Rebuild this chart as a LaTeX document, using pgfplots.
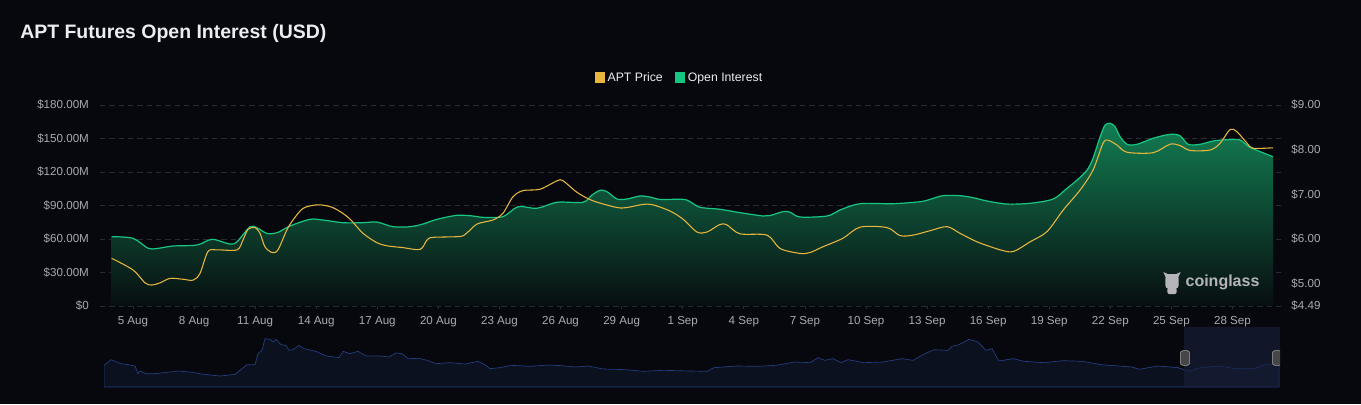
\documentclass[border=0pt]{standalone}
\usepackage{fontspec}
\setmainfont{Liberation Sans}
\usepackage{pgfplots}
\pgfplotsset{compat=1.18}

\definecolor{bg}{RGB}{7,8,13}
\definecolor{gridc}{RGB}{42,44,52}
\definecolor{labc}{RGB}{168,171,178}
\definecolor{titlec}{RGB}{236,237,240}
\definecolor{oiC}{RGB}{22,199,132}
\definecolor{oiTop}{RGB}{18,125,82}
\definecolor{oiBot}{RGB}{8,14,16}
\definecolor{priceC}{RGB}{232,182,62}
\definecolor{navFill}{RGB}{12,17,32}
\definecolor{navLine}{RGB}{36,62,130}
\definecolor{navSel}{RGB}{24,32,58}
\definecolor{wm}{RGB}{180,180,186}

\pgfplotstableread{
x oi
-1.05 62.1
0 60.6
0.74 51.7
1.18 51.5
1.96 53.7
3.14 54.6
3.88 59.7
4.76 55.5
5.11 57.6
5.75 71.0
6.09 70.0
6.58 65.0
7.07 65.6
7.71 71.6
8.69 77.6
9.33 77.0
10.31 74.6
11.30 74.6
11.98 75.2
12.77 71.0
13.61 71.0
14.24 73.4
14.93 77.6
15.91 81.2
16.70 80.6
17.19 79.4
18.17 80.0
18.91 88.9
19.84 87.5
20.83 92.9
22.10 92.9
22.54 99.4
22.94 103.6
23.28 102.4
23.77 95.8
24.26 95.8
24.90 98.5
25.39 97.6
25.88 95.5
27.01 95.5
27.36 93.4
27.85 88.4
28.83 86.6
29.81 83.6
30.94 80.6
31.29 81.0
31.93 84.5
32.27 84.0
32.76 79.7
34.09 80.6
34.73 86.0
35.71 91.6
37.33 91.6
38.66 93.4
39.15 95.5
39.78 98.8
40.62 98.8
41.26 97.0
41.95 94.0
42.93 91.3
44.06 92.0
45.19 95.8
45.87 105.4
46.37 112.8
46.86 121.8
47.15 132.3
47.50 151.6
47.74 162.0
47.99 163.6
48.23 160.6
48.48 151.6
48.82 144.8
49.31 144.8
50.10 150.2
50.93 153.7
51.42 152.5
51.82 144.8
52.41 144.8
53.05 147.8
53.73 148.9
54.37 148.7
54.86 142.1
55.99 133.7
}\oidata

\pgfplotstableread{
x price
-1.05 5.56
0 5.30
0.59 5.01
0.93 4.96
1.33 5.01
1.82 5.11
2.46 5.09
2.95 5.07
3.29 5.22
3.68 5.71
4.13 5.75
5.11 5.75
5.40 5.97
5.65 6.21
5.99 6.25
6.24 6.12
6.48 5.82
6.83 5.69
7.12 5.75
7.56 6.20
7.86 6.42
8.35 6.68
9.04 6.76
9.68 6.72
10.17 6.61
10.66 6.44
11.30 6.12
11.98 5.91
12.48 5.84
13.26 5.80
14.10 5.76
14.44 5.97
14.73 6.03
16.06 6.05
16.40 6.13
16.90 6.33
17.68 6.42
18.17 6.57
18.66 6.94
19.16 7.08
19.99 7.11
20.83 7.30
21.12 7.30
21.81 7.04
22.59 6.85
23.77 6.70
24.26 6.70
25.05 6.77
25.54 6.76
26.38 6.62
27.01 6.44
27.70 6.15
28.19 6.15
28.83 6.32
29.17 6.31
29.81 6.11
31.14 6.08
31.78 5.78
32.76 5.67
33.25 5.69
33.89 5.82
34.87 6.01
35.71 6.26
37.03 6.25
37.67 6.07
38.31 6.08
39.15 6.18
39.98 6.27
40.62 6.12
41.45 5.93
42.24 5.80
42.58 5.75
43.22 5.71
44.06 5.93
44.89 6.16
45.68 6.64
46.51 7.09
47.15 7.54
47.64 8.14
47.89 8.21
48.33 8.10
48.82 7.94
50.10 7.93
50.93 8.12
51.42 8.09
51.92 7.98
52.90 7.99
53.39 8.14
53.88 8.45
54.22 8.40
54.72 8.14
55.01 8.03
55.99 8.04
}\pricedata

% overview strip under the chart (x in pixels of the strip, y in strip units)
\pgfplotstableread{
x h
104 65
111 82
121 70
128 67
135 63
138 40
140 48
146 40
155 40
167 44
178 48
193 44
201 39
220 33
235 38
239 48
247 67
255 67
258 100
262 110
265 145
270 143
273 135
276 143
281 127
286 125
289 110
293 112
299 125
304 115
316 107
323 97
327 93
339 88
343 107
350 100
358 107
366 93
381 93
389 90
396 102
402 100
408 85
419 86
427 80
436 70
450 73
465 69
478 77
486 65
490 55
500 58
511 65
530 62
549 66
561 64
576 60
588 63
595 59
603 54
626 52
643 47
664 50
690 48
707 47
714 58
737 63
757 62
776 65
795 75
810 73
818 88
825 80
833 85
841 73
848 82
864 73
883 75
902 85
913 80
925 100
934 112
948 110
952 122
959 127
969 143
978 135
986 110
992 115
999 78
1013 85
1024 77
1044 73
1063 79
1082 77
1101 67
1132 60
1139 53
1158 63
1178 58
1189 47
1200 58
1220 63
1235 55
1254 55
1265 68
1279 70
}\navdata

\begin{document}
\begin{tikzpicture}
\fill[bg] (0pt,0pt) rectangle (1020.75pt,303pt);

\node[anchor=west, inner sep=0pt, text=titlec,
  font=\bfseries\fontsize{14.6}{17}\selectfont] at (15pt,278.25pt)
  {APT Futures Open Interest (USD)};

% main chart, left axis: open interest
\begin{axis}[
  at={(75pt,73.5pt)}, anchor=south west,
  scale only axis, width=887.25pt, height=150.75pt,
  xmin=-1.62, xmax=56.48, ymin=0, ymax=180,
  axis x line*=bottom, axis y line*=left,
  axis line style={draw=none},
  xtick={0,3,...,54},
  xticklabels={5 Aug,8 Aug,11 Aug,14 Aug,17 Aug,20 Aug,23 Aug,26 Aug,29 Aug,1 Sep,4 Sep,7 Sep,10 Sep,13 Sep,16 Sep,19 Sep,22 Sep,25 Sep,28 Sep},
  ytick={0,30,...,180},
  yticklabels={\$0,\$30.00M,\$60.00M,\$90.00M,\$120.00M,\$150.00M,\$180.00M},
  tick align=outside,
  major tick length=2.5pt,
  xtick style={draw=gridc, line width=0.5pt},
  ytick style={draw=none},
  ymajorgrids,
  grid style={draw=gridc, line width=0.6pt, dash pattern=on 4pt off 3pt},
  tick label style={text=labc, font=\fontsize{8.7}{10}\selectfont},
  yticklabel style={xshift=-2.3pt},
  xticklabel style={anchor=base, yshift=-11.3pt},
]
\addplot[draw=none, top color=oiTop, bottom color=oiBot, smooth, tension=0.5]
  table[x=x, y=oi] {\oidata} \closedcycle;
\addplot[oiC, line width=0.9pt, smooth, tension=0.5] table[x=x, y=oi] {\oidata};
\end{axis}

% right axis: price
\begin{axis}[
  at={(75pt,73.5pt)}, anchor=south west,
  scale only axis, width=887.25pt, height=150.75pt,
  xmin=-1.62, xmax=56.48, ymin=4.49, ymax=9,
  axis x line=none, axis y line*=right,
  axis line style={draw=none},
  ytick={4.49,5,6,7,8,9},
  yticklabels={\$4.49,\$5.00,\$6.00,\$7.00,\$8.00,\$9.00},
  ytick style={draw=none},
  tick label style={text=labc, font=\fontsize{8.7}{10}\selectfont},
  yticklabel style={xshift=2.8pt},
  legend columns=2,
  legend style={at={(0.49,1.134)}, anchor=center, draw=none, fill=none,
    text=titlec, font=\fontsize{9.2}{11}\selectfont,
    /tikz/every even column/.append style={column sep=7pt}},
  legend image code/.code={\fill[#1, draw=none] (0pt,-3.6pt) rectangle (7.8pt,4.2pt);},
]
\addplot[priceC, line width=0.8pt, smooth, tension=0.5] table[x=x, y=price] {\pricedata};
\addlegendentry{APT Price}
\addlegendimage{oiC}
\addlegendentry{Open Interest}
\end{axis}

% watermark
\begin{scope}[shift={(879pt,91.5pt)}]
\fill[wm] (-3.2pt,6pt) -- (-6.5pt,7.5pt) -- (-4.5pt,3pt) -- (4.5pt,3pt) -- (6.5pt,7.5pt) -- (3.2pt,6pt) -- cycle;
\fill[wm, rounded corners=2.5pt] (-5pt,5pt) rectangle (5pt,-5pt);
\fill[wm, rounded corners=1.5pt] (-3.5pt,-4pt) rectangle (3.5pt,-9pt);
\end{scope}
\node[anchor=west, inner sep=0pt, text=wm, font=\bfseries\fontsize{12}{14}\selectfont]
  at (889pt,91.5pt) {coinglass};

% overview strip
\begin{axis}[
  at={(78pt,12.75pt)}, anchor=south west,
  scale only axis, width=882pt, height=45pt,
  xmin=104, xmax=1280, ymin=0, ymax=180,
  hide axis,
]
\addplot[fill=navFill, draw=navLine, line width=0.5pt] table[x=x, y=h] {\navdata} \closedcycle;
\addplot[fill=navSel, fill opacity=0.6, draw=none] coordinates {(1184,0) (1184,180) (1280,180) (1280,0)} \closedcycle;
\node[fill=gray!55!black, draw=gray!70, rounded corners=2pt, minimum width=7pt, minimum height=11pt, inner sep=0pt] at (axis cs:1185,87) {};
\node[fill=gray!55!black, draw=gray!70, rounded corners=2pt, minimum width=7pt, minimum height=11pt, inner sep=0pt] at (axis cs:1277,87) {};
\end{axis}

\pgfresetboundingbox
\path (0pt,0pt) rectangle (1020.75pt,303pt);
\end{tikzpicture}
\end{document}
